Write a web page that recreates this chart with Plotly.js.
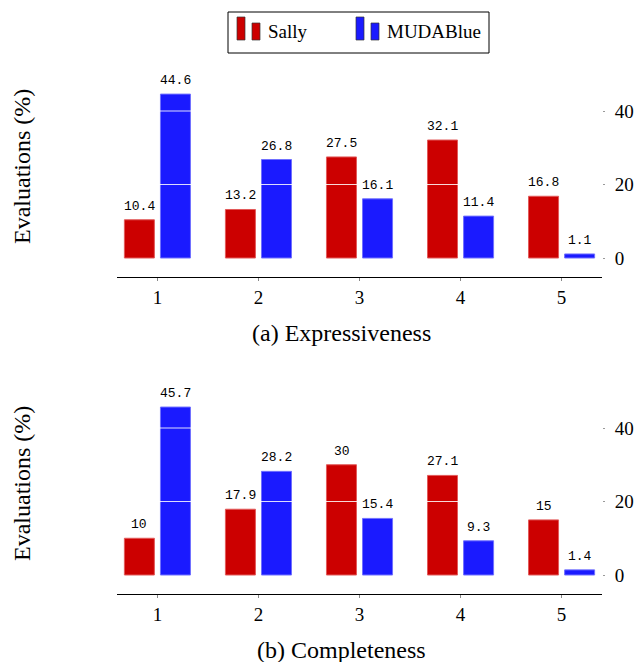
<!DOCTYPE html>
<html>
<head>
<meta charset="utf-8">
<script src="https://cdn.plot.ly/plotly-3.0.1.min.js"></script>
<style>html,body{margin:0;padding:0;background:#fff;}#chart{width:634px;height:662px;}</style>
</head>
<body>
<div id="chart"></div>
<script>
// ---- data ----
const categories = ['1', '2', '3', '4', '5'];
const seriesNames = ['Sally', 'MUDABlue'];
const sallyExpressiveness = [10.4, 13.2, 27.5, 32.1, 16.8];
const mudaExpressiveness = [44.6, 26.8, 16.1, 11.4, 1.1];
const sallyCompleteness = [10, 17.9, 30, 27.1, 15];
const mudaCompleteness = [45.7, 28.2, 15.4, 9.3, 1.4];
const yTickVals = [0, 20, 40];
const gridVals = [20, 40];
const panelCaptions = ['(a) Expressiveness', '(b) Completeness'];
const yTitle = 'Evaluations (%)';

// ---- style ----
const W = 634, H = 662;
const px = v => v / W;
const py = v => 1 - v / H;
const RED = '#cc0000', BLUE = '#1a1aff';
const serif = '"Liberation Serif", "Times New Roman", serif';
const mono = '"Liberation Mono", "Courier New", monospace';
const BAR_W = 0.297, BAR_GAP = 0.03;
const TICK_SIZE = 19;

function barTrace(vals, name, color, edge, offset, xa, ya) {
  return {
    type: 'bar', x: categories, y: vals, name: name,
    xaxis: xa, yaxis: ya,
    width: BAR_W, offset: offset,
    marker: {color: color, line: {color: edge, width: 1}},
    showlegend: false, hoverinfo: 'skip'
  };
}

const data = [
  barTrace(sallyExpressiveness, seriesNames[0], RED, '#e25a5a', -(BAR_W + BAR_GAP), 'x', 'y'),
  barTrace(mudaExpressiveness, seriesNames[1], BLUE, '#7070ff', BAR_GAP, 'x', 'y'),
  barTrace(sallyCompleteness, seriesNames[0], RED, '#e25a5a', -(BAR_W + BAR_GAP), 'x2', 'y2'),
  barTrace(mudaCompleteness, seriesNames[1], BLUE, '#7070ff', BAR_GAP, 'x2', 'y2')
];

const xDomain = [px(117), px(602)];
function xAxis(anchor) {
  return {
    type: 'category', domain: xDomain, anchor: anchor, range: [-0.4, 4.4],
    showline: true, linecolor: '#000', linewidth: 1,
    ticks: 'outside', ticklen: 3, tickcolor: '#888',
    tickfont: {family: serif, size: TICK_SIZE, color: '#000'},
    showgrid: false, zeroline: false, fixedrange: true
  };
}
function yAxis(anchor, domain) {
  return {
    domain: domain, anchor: anchor, side: 'right', range: [-5.17, 50],
    tickvals: yTickVals, ticktext: yTickVals.map(String),
    ticks: 'outside', ticklen: 2, tickcolor: '#999',
    ticklabelstandoff: 6,
    tickfont: {family: serif, size: TICK_SIZE, color: '#000'},
    showline: false, showgrid: false, zeroline: false, fixedrange: true
  };
}

const shapes = [];
gridVals.forEach(v => {
  ['x', 'x2'].forEach((xa, i) => {
    shapes.push({type: 'line', xref: xa + ' domain', yref: i ? 'y2' : 'y',
      x0: 0, x1: 1, y0: v, y1: v, layer: 'above',
      line: {color: 'rgba(255,255,255,0.85)', width: 1}});
  });
});
// legend box
shapes.push({type: 'rect', xref: 'paper', yref: 'paper', x0: px(228), x1: px(489), y0: py(53), y1: py(12),
  line: {color: '#000', width: 1}, fillcolor: 'rgba(0,0,0,0)'});
function legendBars(x, color) {
  shapes.push({type: 'rect', xref: 'paper', yref: 'paper', x0: px(x), x1: px(x + 8), y0: py(40), y1: py(17),
    line: {color: '#333', width: 0.7}, fillcolor: color});
  shapes.push({type: 'rect', xref: 'paper', yref: 'paper', x0: px(x + 15), x1: px(x + 23), y0: py(40), y1: py(23),
    line: {color: '#333', width: 0.7}, fillcolor: color});
}
legendBars(237, RED);
legendBars(356, BLUE);

const annotations = [
  {text: seriesNames[0], xref: 'paper', yref: 'paper', x: px(266), y: py(31), xanchor: 'left', yanchor: 'middle',
   showarrow: false, font: {family: serif, size: 19, color: '#000'}},
  {text: seriesNames[1], xref: 'paper', yref: 'paper', x: px(385), y: py(31), xanchor: 'left', yanchor: 'middle',
   showarrow: false, font: {family: serif, size: 19, color: '#000'}},
  {text: yTitle, xref: 'paper', yref: 'paper', x: px(22), y: py(167), textangle: -90, xanchor: 'center', yanchor: 'middle',
   showarrow: false, font: {family: serif, size: 24, color: '#000'}},
  {text: yTitle, xref: 'paper', yref: 'paper', x: px(22), y: py(484), textangle: -90, xanchor: 'center', yanchor: 'middle',
   showarrow: false, font: {family: serif, size: 24, color: '#000'}},
  {text: panelCaptions[0], xref: 'paper', yref: 'paper', x: px(341), y: py(333), xanchor: 'center', yanchor: 'middle',
   showarrow: false, font: {family: serif, size: 24, color: '#000'}},
  {text: panelCaptions[1], xref: 'paper', yref: 'paper', x: px(341), y: py(650), xanchor: 'center', yanchor: 'middle',
   showarrow: false, font: {family: serif, size: 24, color: '#000'}}
];

// value labels above bars (annotations so they sit above the white grid lines)
function valueLabels(vals, xa, ya, side) {
  vals.forEach((v, i) => {
    annotations.push({text: String(v), xref: xa, yref: ya, x: i, y: v,
      xanchor: 'center', yanchor: 'bottom', xshift: side * 18, yshift: 4,
      showarrow: false, font: {family: mono, size: 13, color: '#000'}});
  });
}
valueLabels(sallyExpressiveness, 'x', 'y', -1);
valueLabels(mudaExpressiveness, 'x', 'y', 1);
valueLabels(sallyCompleteness, 'x2', 'y2', -1);
valueLabels(mudaCompleteness, 'x2', 'y2', 1);

const layout = {
  width: W, height: H,
  margin: {l: 0, r: 0, t: 0, b: 0},
  paper_bgcolor: '#fff', plot_bgcolor: '#fff',
  barmode: 'overlay',
  showlegend: false,
  xaxis: xAxis('y'),
  yaxis: yAxis('x', [py(277), py(74.25)]),
  xaxis2: xAxis('y2'),
  yaxis2: yAxis('x2', [py(594), py(391.25)]),
  shapes: shapes,
  annotations: annotations
};

Plotly.newPlot('chart', data, layout, {staticPlot: true, displayModeBar: false});
</script>
</body>
</html>
